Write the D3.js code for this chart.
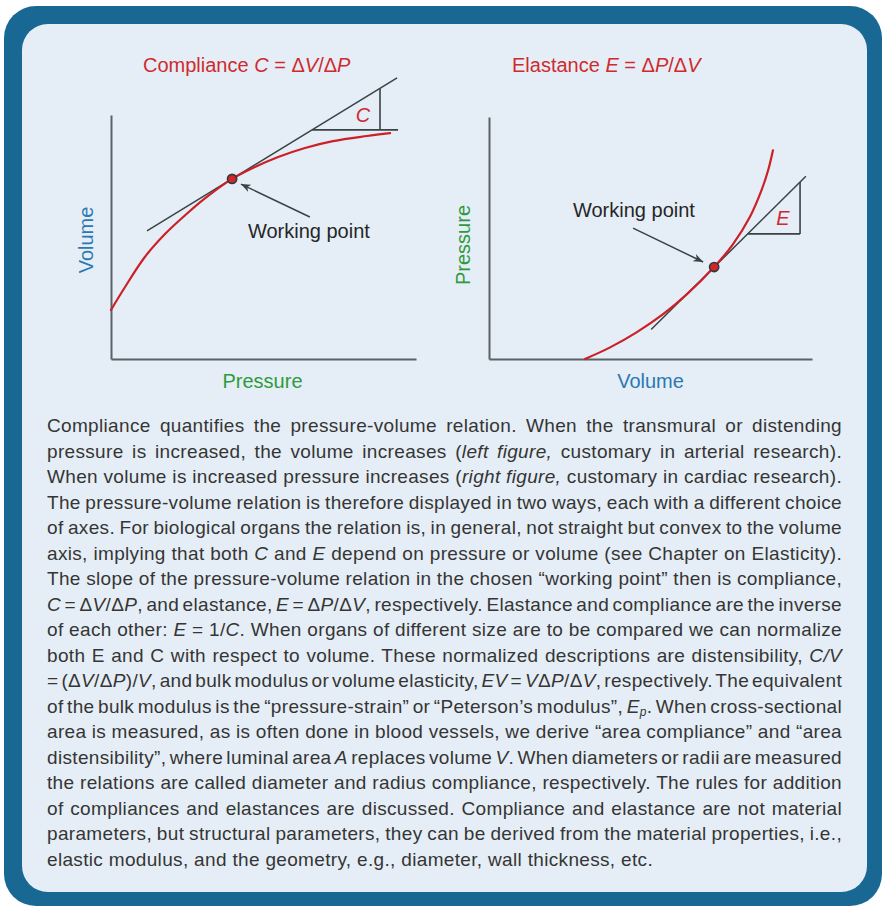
<!DOCTYPE html>
<html>
<head>
<meta charset="utf-8">
<script src="https://cdn.jsdelivr.net/npm/d3@7"></script>
<style>
  html, body { margin: 0; padding: 0; background: #ffffff; }
  #wrap { position: relative; width: 884px; height: 908px; overflow: hidden; }
  #wrap svg { position: absolute; left: 0; top: 0; }
  #body-text { position: absolute; left: 47px; width: 795px; top: 0; }
  .tline {
    position: absolute; left: 0; white-space: nowrap;
    font-family: "Liberation Sans", Arial, sans-serif;
    font-size: 19px; letter-spacing: 0.33px; color: #353535; line-height: 20px;
  }
  .tline sub { font-size: 12px; vertical-align: -3px; line-height: 0; }
</style>
</head>
<body>
<div id="wrap"></div>
<script>
// ---- Pressure-volume relation, compliance view (pressure on x, volume on y)
const complianceCurve = [
  [0, 20.1], [4.6, 29.5], [11.1, 41.8], [17.7, 51.2], [24.3, 58.9], [30.8, 65.8],
  [39.7, 73.8], [47.2, 78.7], [54.8, 82.8], [63.6, 86.5], [72.8, 89.3], [83.9, 91.4], [91.5, 92.6]
];
const complianceWorkingPoint = [39.7, 73.8];
const complianceTangent = [[11.8, 52.5], [93.8, 115.2]];
const complianceRun = [[66.0, 93.9], [94.1, 93.9]];
const complianceRise = [[88.2, 93.9], [88.2, 110.9]];
const complianceSlopeLabel = [82.6, 100];
const complianceArrow = [[65.2, 58.2], [42.6, 71.7]];
const complianceNote = [44.9, 49.6];

// ---- Same relation, elastance view (volume on x, pressure on y)
const elastanceCurve = [
  [29.7, 0], [37.5, 4.8], [45.8, 11.1], [53.9, 18.5], [61.3, 26.8], [69.7, 38.0],
  [75.5, 47.4], [80.8, 58.8], [84.5, 70.2], [86.4, 77.9], [87.9, 86.2]
];
const elastanceWorkingPoint = [69.7, 38.0];
const elastanceTangent = [[50.2, 12.2], [98.1, 75.5]];
const elastanceRun = [[80.1, 51.7], [96.3, 51.7]];
const elastanceRise = [[96.3, 51.7], [96.3, 73.1]];
const elastanceSlopeLabel = [91.0, 58.3];
const elastanceArrow = [[44.6, 54.1], [66.3, 40.1]];
const elastanceNote = [26.0, 58.7];

// ---- Text
const chartTitles = [
  [["Compliance ", false], ["C", true], [" = Δ", false], ["V", true], ["/Δ", false], ["P", true]],
  [["Elastance ", false], ["E", true], [" = Δ", false], ["P", true], ["/Δ", false], ["V", true]]
];
const axisLabels = { left: ["Pressure", "Volume"], right: ["Volume", "Pressure"] };
const slopeLetters = ["C", "E"];
const noteText = "Working point";

const paragraphLines = [
  "Compliance quantifies the pressure-volume relation. When the transmural or distending",
  "pressure is increased, the volume increases (<i>left figure,</i> customary in arterial research).",
  "When volume is increased pressure increases (<i>right figure,</i> customary in cardiac research).",
  "The pressure-volume relation is therefore displayed in two ways, each with a different choice",
  "of axes. For biological organs the relation is, in general, not straight but convex to the volume",
  "axis, implying that both <i>C</i> and <i>E</i> depend on pressure or volume (see Chapter on Elasticity).",
  "The slope of the pressure-volume relation in the chosen “working point” then is compliance,",
  "<i>C</i> = Δ<i>V</i>/Δ<i>P</i>, and elastance, <i>E</i> = Δ<i>P</i>/Δ<i>V</i>, respectively. Elastance and compliance are the inverse",
  "of each other: <i>E</i> = 1/<i>C</i>. When organs of different size are to be compared we can normalize",
  "both E and C with respect to volume. These normalized descriptions are distensibility, <i>C/V</i>",
  "= (Δ<i>V</i>/Δ<i>P</i>)/<i>V</i>, and bulk modulus or volume elasticity, <i>EV</i> = <i>V</i>Δ<i>P</i>/Δ<i>V</i>, respectively. The equivalent",
  "of the bulk modulus is the “pressure-strain” or “Peterson’s modulus”, <i>E<sub>p</sub></i>. When cross-sectional",
  "area is measured, as is often done in blood vessels, we derive “area compliance” and “area",
  "distensibility”, where luminal area <i>A</i> replaces volume <i>V</i>. When diameters or radii are measured",
  "the relations are called diameter and radius compliance, respectively. The rules for addition",
  "of compliances and elastances are discussed. Compliance and elastance are not material",
  "parameters, but structural parameters, they can be derived from the material properties, i.e.,",
  "elastic modulus, and the geometry, e.g., diameter, wall thickness, etc."
];

// ---- Styles
const FONT = '"Liberation Sans", Arial, sans-serif';
const RED = "#cf2a2e";
const CURVE = "#cc2027";
const BLUE = "#2b78b2";
const GREEN = "#2e9a3c";
const INK = "#262626";
const AXIS = "#5b6266";
const TAN = "#3a4246";

const W = 884, H = 908;
const wrap = d3.select("#wrap");
const svg = wrap.append("svg").attr("width", W).attr("height", H);

// Frame
svg.append("rect").attr("x", 4).attr("y", 6).attr("width", 878).attr("height", 900)
  .attr("rx", 32).attr("fill", "#196894");
svg.append("rect").attr("x", 22).attr("y", 24).attr("width", 845).attr("height", 868)
  .attr("rx", 26).attr("fill", "#e5eef6");

const defs = svg.append("defs");
defs.append("marker").attr("id", "arrowhead")
  .attr("viewBox", "0 0 10 8").attr("refX", 10).attr("refY", 4)
  .attr("markerWidth", 10).attr("markerHeight", 8).attr("markerUnits", "userSpaceOnUse")
  .attr("orient", "auto")
  .append("path").attr("d", "M0,0 L10,4 L0,8 L3,4 Z").attr("fill", TAN);

function panel(cfg) {
  const x = d3.scaleLinear().domain([0, 100]).range(cfg.xRange);
  const y = d3.scaleLinear().domain([0, 100]).range(cfg.yRange);
  const g = svg.append("g");

  const line = d3.line().x(d => x(d[0])).y(d => y(d[1]));
  const smooth = d3.line().x(d => x(d[0])).y(d => y(d[1])).curve(d3.curveCatmullRom.alpha(0.5));

  // axes (no ticks, only the domain lines)
  const ax = g.append("g").attr("transform", `translate(0,${cfg.yRange[0]})`)
    .call(d3.axisBottom(x).ticks(0).tickSize(0).tickSizeOuter(0));
  const ay = g.append("g").attr("transform", `translate(${cfg.xRange[0]},0)`)
    .call(d3.axisLeft(y).ticks(0).tickSize(0).tickSizeOuter(0));
  [ax, ay].forEach(a => {
    a.select(".domain").attr("stroke", AXIS).attr("stroke-width", 2);
    a.selectAll("text").remove();
  });

  // tangent and slope triangle
  g.append("path").attr("d", line(cfg.tangent)).attr("stroke", TAN)
    .attr("stroke-width", 1.5).attr("fill", "none");
  g.append("path").attr("d", line(cfg.run)).attr("stroke", TAN)
    .attr("stroke-width", 1.6).attr("fill", "none");
  g.append("path").attr("d", line(cfg.rise)).attr("stroke", TAN)
    .attr("stroke-width", 1.6).attr("fill", "none");

  // pressure-volume curve
  g.append("path")
    .attr("d", smooth(cfg.curve))
    .attr("stroke", CURVE).attr("stroke-width", 2.2).attr("fill", "none")
    .attr("stroke-linecap", "round");

  // working point
  g.append("circle").attr("cx", x(cfg.wp[0])).attr("cy", y(cfg.wp[1])).attr("r", 4.6)
    .attr("fill", "#d0262b").attr("stroke", "#30383c").attr("stroke-width", 1.6);

  // arrow pointing at working point
  g.append("line")
    .attr("x1", x(cfg.arrow[0][0])).attr("y1", y(cfg.arrow[0][1]))
    .attr("x2", x(cfg.arrow[1][0])).attr("y2", y(cfg.arrow[1][1]))
    .attr("stroke", TAN).attr("stroke-width", 1.5).attr("marker-end", "url(#arrowhead)");

  g.append("text").attr("x", x(cfg.note[0])).attr("y", y(cfg.note[1]))
    .attr("font-family", FONT).attr("font-size", 20).attr("fill", INK)
    .text(noteText);

  // slope letter
  g.append("text").attr("x", x(cfg.slopeLabel[0])).attr("y", y(cfg.slopeLabel[1]))
    .attr("font-family", FONT).attr("font-size", 20).attr("font-style", "italic")
    .attr("fill", RED).attr("text-anchor", "middle").attr("dominant-baseline", "central")
    .text(cfg.letter);

  // title
  const t = g.append("text").attr("x", cfg.titleX).attr("y", 72)
    .attr("font-family", FONT).attr("font-size", 20).attr("fill", RED);
  cfg.title.forEach(([s, it]) => {
    t.append("tspan").attr("font-style", it ? "italic" : "normal").text(s);
  });

  // axis labels
  g.append("text").attr("x", (cfg.xRange[0] + cfg.xRange[1]) / 2 + cfg.xLabelDx).attr("y", 388)
    .attr("font-family", FONT).attr("font-size", 20).attr("fill", cfg.xColor)
    .attr("text-anchor", "middle").text(cfg.xLabel);
  g.append("text")
    .attr("transform", `translate(${cfg.yLabelX},${cfg.yLabelY}) rotate(-90)`)
    .attr("font-family", FONT).attr("font-size", 20).attr("fill", cfg.yColor)
    .attr("text-anchor", "middle").text(cfg.yLabel);
}

panel({
  xRange: [111, 416], yRange: [359, 115],
  curve: complianceCurve, wp: complianceWorkingPoint, tangent: complianceTangent,
  run: complianceRun, rise: complianceRise, slopeLabel: complianceSlopeLabel,
  arrow: complianceArrow, note: complianceNote, letter: slopeLetters[0],
  title: chartTitles[0], titleX: 143,
  xLabel: axisLabels.left[0], yLabel: axisLabels.left[1],
  xColor: GREEN, yColor: BLUE, xLabelDx: -1, yLabelX: 93, yLabelY: 240
});
panel({
  xRange: [489, 812], yRange: [359, 117],
  curve: elastanceCurve, wp: elastanceWorkingPoint, tangent: elastanceTangent,
  run: elastanceRun, rise: elastanceRise, slopeLabel: elastanceSlopeLabel,
  arrow: elastanceArrow, note: elastanceNote, letter: slopeLetters[1],
  title: chartTitles[1], titleX: 512,
  xLabel: axisLabels.right[0], yLabel: axisLabels.right[1],
  xColor: BLUE, yColor: GREEN, xLabelDx: 0, yLabelX: 470, yLabelY: 245
});

// ---- Justified paragraph, one positioned row per line
const textBox = wrap.append("div").attr("id", "body-text");
const LINE0 = 433, LEAD = 25.5, BOX_W = 795;
paragraphLines.forEach((ln, i) => {
  const row = textBox.append("div").attr("class", "tline")
    .style("top", (LINE0 + i * LEAD - 16.6) + "px");
  const span = row.append("span").html(ln);
  if (i < paragraphLines.length - 1) {
    const natural = span.node().getBoundingClientRect().width;
    const gaps = (ln.replace(/<[^>]+>/g, "").match(/ /g) || []).length;
    if (gaps > 0) row.style("word-spacing", ((BOX_W - natural) / gaps) + "px");
  }
});
</script>
</body>
</html>
